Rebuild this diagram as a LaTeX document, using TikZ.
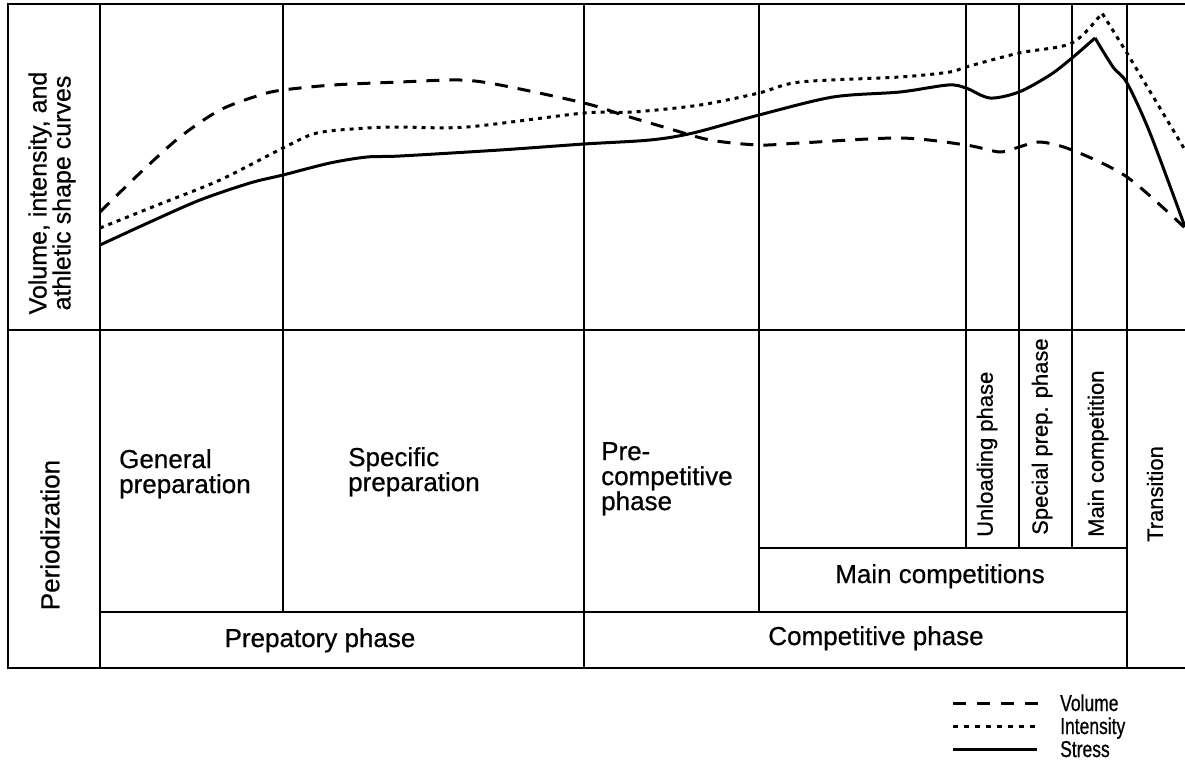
\documentclass[tikz,border=0pt]{standalone}
\usepackage{fontspec}
\setmainfont[FakeBold=0.6]{Liberation Sans}
\newfontfamily\legfont[FakeStretch=0.76,FakeBold=0.6]{Liberation Sans}
\begin{document}
\begin{tikzpicture}[x=1pt,y=-1pt,
  grid/.style={line width=2.9pt, line cap=rect},
  curve/.style={line width=3pt, line join=round},
  vol/.style={curve, dash pattern=on 13pt off 10pt},
  inten/.style={curve, dash pattern=on 4pt off 5pt},
  stress/.style={curve},
  lab/.style={font=\fontsize{26}{25}\selectfont, inner sep=0pt, align=left},
  vlab/.style={font=\fontsize{22}{22}\selectfont, inner sep=0pt, rotate=90},
  leg/.style={font=\legfont\fontsize{23}{23}\selectfont, inner sep=0pt, anchor=base west}]
\useasboundingbox (0,0) rectangle (1185,764);
\begin{scope}
\clip (0,0) rectangle (1185,764);
% frame
\draw[grid] (1250,4) -- (8,4) -- (8,668) -- (1250,668);
\draw[grid] (8,330) -- (1250,330);
\draw[grid] (100,4) -- (100,668);
\draw[grid] (283,4) -- (283,612);
\draw[grid] (584,4) -- (584,668);
\draw[grid] (759,4) -- (759,612);
\draw[grid] (966,4) -- (966,548);
\draw[grid] (1019,4) -- (1019,548);
\draw[grid] (1072,4) -- (1072,548);
\draw[grid] (1127,4) -- (1127,668);
\draw[grid] (100,612) -- (1127,612);
\draw[grid] (759,548) -- (1127,548);
% curves
\draw[vol] plot[smooth, tension=0.5] coordinates {(100,212) (140,173) (180,137) (220,110) (260,95) (283,90) (333,85) (400,82) (460,80) (500,85) (584,103) (623,115) (667,128) (710,140) (759,145) (800,143) (900,138) (966,145) (1000,152) (1019,147) (1040,142) (1072,150) (1127,177) (1185,228)};
\draw[inten] plot[smooth, tension=0.5] coordinates {(100,228) (160,204) (220,180) (283,148) (317,133) (367,128) (400,127) (467,127) (584,113) (633,112) (700,105) (759,93) (800,82) (900,77) (950,72) (966,67) (1019,53) (1072,43) (1102,13)}
  -- (1127,53) -- (1185,150);
\draw[stress] plot[smooth, tension=0.5] coordinates {(100,245) (150,222) (200,200) (250,183) (283,175) (330,163) (367,157) (400,156) (500,150) (584,144) (650,140) (693,133) (759,115) (833,97) (900,92) (948,85) (966,88) (990,98) (1019,92) (1050,75) (1072,58) (1095,38)};
\draw[stress] plot[smooth, tension=0.5] coordinates {(1095,38) (1113,67) (1127,83) (1150,133) (1185,227)};
\end{scope}
% labels
\node[vlab, font=\fontsize{25}{24}\selectfont, align=center] (ylab) at (52,193) {Volume, intensity, and\\athletic shape curves};
\node[vlab, font=\fontsize{26}{25}\selectfont] (per) at (50,535) {Periodization};
\node[lab, anchor=north west] (gen) at (119,449) {General\\preparation};
\node[lab, anchor=north west] (spec) at (348,447) {Specific\\preparation};
\node[lab, anchor=north west] (pre) at (601,442) {Pre-\\competitive\\phase};
\node[lab, anchor=base] (prep) at (320,647) {Prepatory phase};
\node[lab, anchor=base] (comp) at (876,645) {Competitive phase};
\node[lab, anchor=base] (mainc) at (940,583) {Main competitions};
\node[vlab, anchor=west] (unl) at (987,537) {Unloading phase};
\node[vlab, anchor=west] (spp) at (1042,535) {Special prep. phase};
\node[vlab, anchor=west] (mcp) at (1098,537) {Main competition};
\node[vlab] (tra) at (1155,494) {Transition};
% legend
\coordinate (l1a) at (953,703); \coordinate (l1b) at (1040,703);
\coordinate (l2a) at (953,726); \coordinate (l2b) at (1040,726);
\coordinate (l3a) at (953,749); \coordinate (l3b) at (1037,749);
\draw[curve, line width=3pt, dash pattern=on 13pt off 11pt] (l1a) -- (l1b);
\draw[curve, line width=3pt, dash pattern=on 5pt off 6pt] (l2a) -- (l2b);
\draw[curve, line width=3pt] (l3a) -- (l3b);
\node[leg] (lv) at (1060,711) {Volume};
\node[leg] (li) at (1060,734) {Intensity};
\node[leg] (ls) at (1060,757) {Stress};
\end{tikzpicture}
\end{document}
